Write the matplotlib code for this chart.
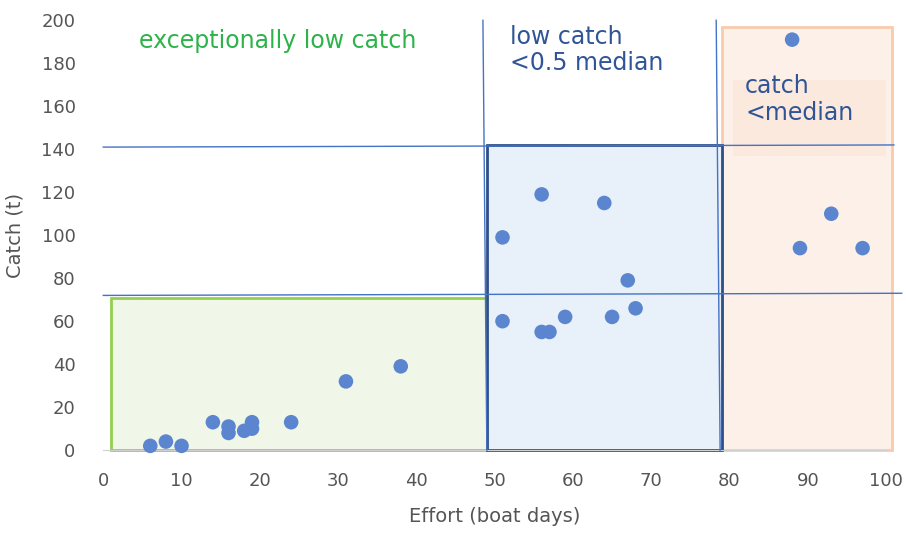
import matplotlib.pyplot as plt
from matplotlib.patches import Rectangle

effort = [6, 8, 10, 14, 16, 16, 18, 19, 19, 24, 31, 38,
          51, 51, 56, 56, 57, 59, 64, 65, 67, 68,
          88, 89, 93, 97]
catch = [2, 4, 2, 13, 11, 8, 9, 13, 10, 13, 32, 39,
         99, 60, 119, 55, 55, 62, 115, 62, 79, 66,
         191, 94, 110, 94]

fig = plt.figure(figsize=(9.06, 5.34), dpi=100)
ax = fig.add_axes([0.114, 0.157, 0.864, 0.805])

# zones
zones = [
    Rectangle((79, 0), 21.8, 197, facecolor="#fdf0e8", edgecolor="#f8cbad", lw=2, zorder=1),
    Rectangle((80.5, 137), 19.5, 35, facecolor="#fbe9de", edgecolor="none", zorder=1),
    Rectangle((1, 0), 48, 71, facecolor="#f0f7e9", edgecolor="#92d050", lw=2, zorder=1),
    Rectangle((49, 0), 30, 142, facecolor="#e8f0f9", edgecolor="#2f4f8a", lw=2, zorder=2),
]
for z in zones:
    z.set_clip_on(False)
    ax.add_patch(z)

for xs, ys in [([0, 101], [141, 142]), ([0, 102], [72, 73]),
               ([48.5, 49], [200, 0]), ([78.3, 78.8], [200, 0])]:
    ax.plot(xs, ys, color="#4472c4", lw=1, zorder=3, clip_on=False)

ax.scatter(effort, catch, s=110, color="#5b86cf", edgecolor="none", zorder=5, clip_on=False)

ax.text(4.5, 196, "exceptionally low catch", color="#2db34a", fontsize=17, va="top")
ax.text(52, 198, "low catch\n<0.5 median", color="#2f5597", fontsize=17, va="top", linespacing=1.15)
ax.text(82, 175, "catch\n<median", color="#2f5597", fontsize=17, va="top", linespacing=1.15)

ax.set_xlim(0, 100)
ax.set_ylim(0, 200)
ax.set_xticks(range(0, 101, 10))
ax.set_yticks(range(0, 201, 20))
ax.set_xlabel("Effort (boat days)", fontsize=14, color="#555555", labelpad=12)
ax.set_ylabel("Catch (t)", fontsize=14, color="#555555", labelpad=12)
ax.tick_params(labelsize=13, colors="#555555", length=0)
ax.tick_params(axis="x", pad=16)
ax.tick_params(axis="y", pad=20)
for s in ["top", "right", "left"]:
    ax.spines[s].set_visible(False)
ax.spines["bottom"].set_color("#d0d0d0")
ax.spines["bottom"].set_bounds(0, 100)

fig.savefig("out.png")
